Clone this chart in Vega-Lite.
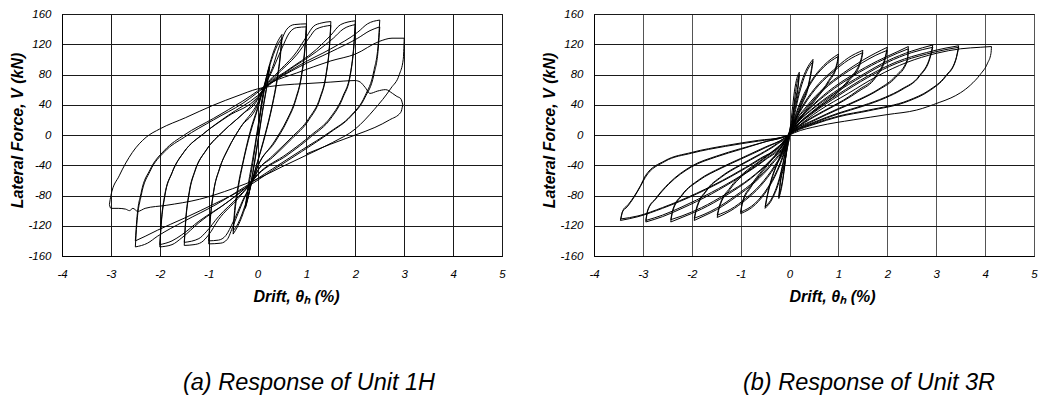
{
"$schema": "https://vega.github.io/schema/vega-lite/v6.json",
"padding": {"left": 9, "top": 7, "right": 0, "bottom": 0},
"background": "white",
"spacing": 35,
"config": {
  "view": {"stroke": "#000", "strokeWidth": 1},
  "axis": {"grid": true, "gridColor": "#1a1a1a", "gridWidth": 1, "gridOpacity": 1, "domain": true, "domainColor": "#000", "domainWidth": 1, "ticks": false,
    "labelFont": "Liberation Sans", "labelFontStyle": "italic", "labelFontSize": 11.5, "labelColor": "#000", "labelFlush": false, "labelOverlap": false,
    "labelExpr": "'' + datum.value",
    "titleFont": "Liberation Sans", "titleFontStyle": "italic", "titleFontWeight": "bold", "titleFontSize": 16, "titleColor": "#000"}
},
"datasets": {
"h1": [
{"b":1,"d":0,"v":0},{"b":1,"d":0.05,"v":25},{"b":1,"d":0.1,"v":48},{"b":1,"d":0.2,"v":80},{"b":1,"d":0.25,"v":92},
{"b":2,"d":0.25,"v":92},{"b":2,"d":0.2,"v":70},{"b":2,"d":0.1,"v":32},{"b":2,"d":0,"v":-10},{"b":2,"d":-0.1,"v":-50},{"b":2,"d":-0.2,"v":-85},{"b":2,"d":-0.25,"v":-97},
{"b":3,"d":-0.25,"v":-97},{"b":3,"d":-0.2,"v":-75},{"b":3,"d":-0.1,"v":-38},{"b":3,"d":0,"v":5},{"b":3,"d":0.1,"v":45},{"b":3,"d":0.2,"v":78},{"b":3,"d":0.25,"v":90},
{"b":4,"d":0.25,"v":90},{"b":4,"d":0.2,"v":68},{"b":4,"d":0.1,"v":30},{"b":4,"d":0,"v":-12},{"b":4,"d":-0.1,"v":-52},{"b":4,"d":-0.2,"v":-84},{"b":4,"d":-0.25,"v":-95},
{"b":5,"d":-0.25,"v":-95},{"b":5,"d":-0.2,"v":-70},{"b":5,"d":-0.1,"v":-32},{"b":5,"d":0,"v":8},{"b":5,"d":0.1,"v":50},{"b":5,"d":0.2,"v":82},{"b":5,"d":0.3,"v":105},{"b":5,"d":0.4,"v":122},{"b":5,"d":0.5,"v":133},
{"b":6,"d":0.5,"v":133},{"b":6,"d":0.47,"v":110},{"b":6,"d":0.4,"v":75},{"b":6,"d":0.3,"v":40},{"b":6,"d":0.15,"v":0},{"b":6,"d":0,"v":-35},{"b":6,"d":-0.1,"v":-58},{"b":6,"d":-0.25,"v":-95},{"b":6,"d":-0.4,"v":-120},{"b":6,"d":-0.5,"v":-131},
{"b":7,"d":-0.5,"v":-131},{"b":7,"d":-0.47,"v":-106},{"b":7,"d":-0.4,"v":-72},{"b":7,"d":-0.3,"v":-38},{"b":7,"d":-0.15,"v":2},{"b":7,"d":0,"v":34},{"b":7,"d":0.1,"v":57},{"b":7,"d":0.25,"v":92},{"b":7,"d":0.4,"v":118},{"b":7,"d":0.5,"v":128},
{"b":8,"d":0.5,"v":128},{"b":8,"d":0.47,"v":106},{"b":8,"d":0.4,"v":72},{"b":8,"d":0.3,"v":38},{"b":8,"d":0.15,"v":-2},{"b":8,"d":0,"v":-36},{"b":8,"d":-0.1,"v":-58},{"b":8,"d":-0.25,"v":-92},{"b":8,"d":-0.4,"v":-117},{"b":8,"d":-0.5,"v":-127},
{"b":9,"d":-0.5,"v":-127},{"b":9,"d":-0.47,"v":-100},{"b":9,"d":-0.4,"v":-68},{"b":9,"d":-0.3,"v":-36},{"b":9,"d":-0.15,"v":5},{"b":9,"d":0,"v":36},{"b":9,"d":0.12,"v":62},{"b":9,"d":0.3,"v":88},{"b":9,"d":0.45,"v":118},{"b":9,"d":0.6,"v":140},{"b":9,"d":0.75,"v":146},{"b":9,"d":1,"v":147},
{"b":10,"d":1,"v":147},{"b":10,"d":0.97,"v":118},{"b":10,"d":0.9,"v":80},{"b":10,"d":0.78,"v":48},{"b":10,"d":0.6,"v":20},{"b":10,"d":0.35,"v":-8},{"b":10,"d":0,"v":-42},{"b":10,"d":-0.12,"v":-62},{"b":10,"d":-0.3,"v":-88},{"b":10,"d":-0.5,"v":-120},{"b":10,"d":-0.62,"v":-138},{"b":10,"d":-0.75,"v":-143},{"b":10,"d":-1,"v":-144},
{"b":11,"d":-1,"v":-144},{"b":11,"d":-0.97,"v":-115},{"b":11,"d":-0.9,"v":-76},{"b":11,"d":-0.78,"v":-45},{"b":11,"d":-0.6,"v":-18},{"b":11,"d":-0.35,"v":10},{"b":11,"d":0,"v":40},{"b":11,"d":0.08,"v":55},{"b":11,"d":0.3,"v":85},{"b":11,"d":0.5,"v":115},{"b":11,"d":0.65,"v":135},{"b":11,"d":0.8,"v":142},{"b":11,"d":1,"v":143},
{"b":12,"d":1,"v":143},{"b":12,"d":0.97,"v":114},{"b":12,"d":0.9,"v":78},{"b":12,"d":0.78,"v":46},{"b":12,"d":0.6,"v":18},{"b":12,"d":0.35,"v":-10},{"b":12,"d":0,"v":-42},{"b":12,"d":-0.08,"v":-57},{"b":12,"d":-0.3,"v":-86},{"b":12,"d":-0.5,"v":-115},{"b":12,"d":-0.65,"v":-133},{"b":12,"d":-0.8,"v":-139},{"b":12,"d":-1,"v":-140},
{"b":13,"d":-1,"v":-140},{"b":13,"d":-0.97,"v":-112},{"b":13,"d":-0.9,"v":-75},{"b":13,"d":-0.78,"v":-45},{"b":13,"d":-0.6,"v":-18},{"b":13,"d":-0.35,"v":10},{"b":13,"d":0,"v":42},{"b":13,"d":0.15,"v":64},{"b":13,"d":0.4,"v":82},{"b":13,"d":0.8,"v":110},{"b":13,"d":1,"v":130},{"b":13,"d":1.15,"v":144},{"b":13,"d":1.3,"v":148},{"b":13,"d":1.5,"v":150},
{"b":14,"d":1.5,"v":150},{"b":14,"d":1.47,"v":118},{"b":14,"d":1.4,"v":80},{"b":14,"d":1.28,"v":50},{"b":14,"d":1.05,"v":22},{"b":14,"d":0.7,"v":-3},{"b":14,"d":0.3,"v":-28},{"b":14,"d":0,"v":-47},{"b":14,"d":-0.15,"v":-64},{"b":14,"d":-0.4,"v":-84},{"b":14,"d":-0.8,"v":-112},{"b":14,"d":-1,"v":-132},{"b":14,"d":-1.15,"v":-142},{"b":14,"d":-1.3,"v":-145},{"b":14,"d":-1.5,"v":-146},
{"b":15,"d":-1.5,"v":-146},{"b":15,"d":-1.47,"v":-115},{"b":15,"d":-1.4,"v":-78},{"b":15,"d":-1.28,"v":-48},{"b":15,"d":-1.05,"v":-20},{"b":15,"d":-0.7,"v":5},{"b":15,"d":-0.3,"v":28},{"b":15,"d":0,"v":47},{"b":15,"d":0.05,"v":54},{"b":15,"d":0.4,"v":80},{"b":15,"d":0.8,"v":106},{"b":15,"d":1.05,"v":128},{"b":15,"d":1.2,"v":140},{"b":15,"d":1.5,"v":145},
{"b":16,"d":1.5,"v":145},{"b":16,"d":1.47,"v":115},{"b":16,"d":1.4,"v":78},{"b":16,"d":1.28,"v":48},{"b":16,"d":1.05,"v":20},{"b":16,"d":0.7,"v":-5},{"b":16,"d":0.3,"v":-30},{"b":16,"d":0,"v":-48},{"b":16,"d":-0.05,"v":-55},{"b":16,"d":-0.4,"v":-82},{"b":16,"d":-0.8,"v":-108},{"b":16,"d":-1.05,"v":-128},{"b":16,"d":-1.2,"v":-137},{"b":16,"d":-1.5,"v":-142},
{"b":17,"d":-1.5,"v":-142},{"b":17,"d":-1.47,"v":-112},{"b":17,"d":-1.4,"v":-76},{"b":17,"d":-1.28,"v":-47},{"b":17,"d":-1.05,"v":-20},{"b":17,"d":-0.7,"v":5},{"b":17,"d":-0.3,"v":28},{"b":17,"d":0,"v":48},{"b":17,"d":0.2,"v":66},{"b":17,"d":0.6,"v":85},{"b":17,"d":1.2,"v":113},{"b":17,"d":1.5,"v":132},{"b":17,"d":1.7,"v":146},{"b":17,"d":2,"v":151},
{"b":18,"d":2,"v":151},{"b":18,"d":1.97,"v":120},{"b":18,"d":1.9,"v":82},{"b":18,"d":1.75,"v":52},{"b":18,"d":1.5,"v":24},{"b":18,"d":1.1,"v":0},{"b":18,"d":0.6,"v":-25},{"b":18,"d":0,"v":-52},{"b":18,"d":-0.2,"v":-67},{"b":18,"d":-0.6,"v":-88},{"b":18,"d":-1.2,"v":-116},{"b":18,"d":-1.55,"v":-136},{"b":18,"d":-1.75,"v":-145},{"b":18,"d":-2,"v":-148},
{"b":19,"d":-2,"v":-148},{"b":19,"d":-1.97,"v":-118},{"b":19,"d":-1.9,"v":-82},{"b":19,"d":-1.75,"v":-50},{"b":19,"d":-1.5,"v":-22},{"b":19,"d":-1.1,"v":2},{"b":19,"d":-0.6,"v":25},{"b":19,"d":0,"v":50},{"b":19,"d":0.12,"v":60},{"b":19,"d":0.6,"v":84},{"b":19,"d":1.2,"v":110},{"b":19,"d":1.55,"v":128},{"b":19,"d":1.75,"v":140},{"b":19,"d":2,"v":146},
{"b":20,"d":2,"v":146},{"b":20,"d":1.97,"v":117},{"b":20,"d":1.9,"v":80},{"b":20,"d":1.75,"v":50},{"b":20,"d":1.5,"v":22},{"b":20,"d":1.1,"v":-2},{"b":20,"d":0.6,"v":-27},{"b":20,"d":0,"v":-53},{"b":20,"d":-0.12,"v":-62},{"b":20,"d":-0.6,"v":-88},{"b":20,"d":-1.2,"v":-114},{"b":20,"d":-1.55,"v":-132},{"b":20,"d":-1.75,"v":-140},{"b":20,"d":-2,"v":-145},
{"b":21,"d":-2,"v":-145},{"b":21,"d":-1.97,"v":-115},{"b":21,"d":-1.9,"v":-80},{"b":21,"d":-1.75,"v":-50},{"b":21,"d":-1.5,"v":-22},{"b":21,"d":-1.1,"v":2},{"b":21,"d":-0.6,"v":26},{"b":21,"d":0,"v":52},{"b":21,"d":0.2,"v":64},{"b":21,"d":0.85,"v":92},{"b":21,"d":1.5,"v":114},{"b":21,"d":2.05,"v":136},{"b":21,"d":2.25,"v":147},{"b":21,"d":2.5,"v":152},
{"b":22,"d":2.5,"v":152},{"b":22,"d":2.47,"v":122},{"b":22,"d":2.38,"v":85},{"b":22,"d":2.2,"v":52},{"b":22,"d":1.9,"v":25},{"b":22,"d":1.5,"v":5},{"b":22,"d":0.9,"v":-20},{"b":22,"d":0.3,"v":-45},{"b":22,"d":-0.2,"v":-66},{"b":22,"d":-0.85,"v":-92},{"b":22,"d":-1.5,"v":-114},{"b":22,"d":-2.05,"v":-134},{"b":22,"d":-2.25,"v":-143},{"b":22,"d":-2.5,"v":-148},
{"b":23,"d":-2.5,"v":-148},{"b":23,"d":-2.47,"v":-118},{"b":23,"d":-2.38,"v":-80},{"b":23,"d":-2.2,"v":-48},{"b":23,"d":-1.9,"v":-22},{"b":23,"d":-1.5,"v":-3},{"b":23,"d":-0.9,"v":20},{"b":23,"d":-0.3,"v":42},{"b":23,"d":0.25,"v":68},{"b":23,"d":0.85,"v":90},{"b":23,"d":1.5,"v":110},{"b":23,"d":2.05,"v":128},{"b":23,"d":2.3,"v":138},{"b":23,"d":2.5,"v":143},
{"b":24,"d":2.5,"v":143},{"b":24,"d":2.47,"v":115},{"b":24,"d":2.38,"v":80},{"b":24,"d":2.2,"v":50},{"b":24,"d":1.9,"v":24},{"b":24,"d":1.5,"v":4},{"b":24,"d":0.9,"v":-22},{"b":24,"d":0.3,"v":-47},{"b":24,"d":-0.25,"v":-70},{"b":24,"d":-0.85,"v":-90},{"b":24,"d":-1.5,"v":-110},{"b":24,"d":-2.05,"v":-126},{"b":24,"d":-2.3,"v":-134},{"b":24,"d":-2.5,"v":-140},
{"b":25,"d":-2.5,"v":-140},{"b":25,"d":-2.47,"v":-112},{"b":25,"d":-2.38,"v":-76},{"b":25,"d":-2.2,"v":-46},{"b":25,"d":-1.9,"v":-20},{"b":25,"d":-1.5,"v":0},{"b":25,"d":-0.9,"v":22},{"b":25,"d":-0.3,"v":45},{"b":25,"d":0.3,"v":70},{"b":25,"d":0.8,"v":82},{"b":25,"d":1.5,"v":98},{"b":25,"d":2,"v":107},{"b":25,"d":2.5,"v":124},{"b":25,"d":2.75,"v":128},{"b":25,"d":3,"v":128},
{"b":26,"d":3,"v":128},{"b":26,"d":2.98,"v":100},{"b":26,"d":2.9,"v":80},{"b":26,"d":2.73,"v":62},{"b":26,"d":2.39,"v":34},{"b":26,"d":2,"v":8},{"b":26,"d":1.53,"v":-10},{"b":26,"d":0.99,"v":-27},{"b":26,"d":0.5,"v":-42},{"b":26,"d":0,"v":-58},{"b":26,"d":-0.51,"v":-71},{"b":26,"d":-1.19,"v":-85},{"b":26,"d":-1.87,"v":-93},{"b":26,"d":-2.3,"v":-97},{"b":26,"d":-2.45,"v":-101},{"b":26,"d":-2.55,"v":-97},{"b":26,"d":-2.62,"v":-100},{"b":26,"d":-2.7,"v":-98},{"b":26,"d":-2.85,"v":-97},{"b":26,"d":-3,"v":-97},{"b":26,"d":-3.03,"v":-92},
{"b":27,"d":-3.03,"v":-92},{"b":27,"d":-3,"v":-80},{"b":27,"d":-2.83,"v":-54},{"b":27,"d":-2.56,"v":-23},{"b":27,"d":-2.28,"v":-3},{"b":27,"d":-2,"v":8},{"b":27,"d":-1.47,"v":23},{"b":27,"d":-0.92,"v":39},{"b":27,"d":-0.4,"v":52},{"b":27,"d":0,"v":61},{"b":27,"d":0.5,"v":66},{"b":27,"d":1,"v":68},{"b":27,"d":1.5,"v":70},{"b":27,"d":2,"v":72},{"b":27,"d":2.1,"v":70},{"b":27,"d":2.2,"v":63},{"b":27,"d":2.3,"v":55},{"b":27,"d":2.45,"v":58},{"b":27,"d":2.62,"v":60},{"b":27,"d":2.76,"v":55},{"b":27,"d":2.85,"v":51},{"b":27,"d":2.93,"v":48},{"b":27,"d":2.97,"v":40},
{"b":28,"d":2.97,"v":40},{"b":28,"d":2.93,"v":30},{"b":28,"d":2.7,"v":20},{"b":28,"d":2.4,"v":10},{"b":28,"d":2,"v":0},{"b":28,"d":1.5,"v":-12},{"b":28,"d":1,"v":-25}
],
"r3": [
{"b":1,"d":0,"v":0},{"b":1,"d":0.05,"v":30},{"b":1,"d":0.1,"v":58},{"b":1,"d":0.15,"v":75},{"b":1,"d":0.2,"v":83},
{"b":2,"d":0.2,"v":83},{"b":2,"d":0.18,"v":70},{"b":2,"d":0.1,"v":40},{"b":2,"d":0.05,"v":20},{"b":2,"d":0,"v":6},{"b":2,"d":-0.05,"v":-15},{"b":2,"d":-0.1,"v":-42},{"b":2,"d":-0.15,"v":-65},{"b":2,"d":-0.22,"v":-84},
{"b":3,"d":-0.22,"v":-84},{"b":3,"d":-0.2,"v":-70},{"b":3,"d":-0.1,"v":-38},{"b":3,"d":-0.05,"v":-18},{"b":3,"d":0,"v":-3},{"b":3,"d":0.05,"v":15},{"b":3,"d":0.1,"v":45},{"b":3,"d":0.15,"v":68},{"b":3,"d":0.2,"v":80},
{"b":4,"d":0.2,"v":80},{"b":4,"d":0.18,"v":66},{"b":4,"d":0.1,"v":36},{"b":4,"d":0.05,"v":16},{"b":4,"d":0,"v":4},{"b":4,"d":-0.05,"v":-14},{"b":4,"d":-0.1,"v":-40},{"b":4,"d":-0.15,"v":-62},{"b":4,"d":-0.22,"v":-82},
{"b":5,"d":-0.22,"v":-82},{"b":5,"d":-0.2,"v":-68},{"b":5,"d":-0.1,"v":-36},{"b":5,"d":0,"v":-3},{"b":5,"d":0.05,"v":12},{"b":5,"d":0.1,"v":30},{"b":5,"d":0.2,"v":60},{"b":5,"d":0.3,"v":80},{"b":5,"d":0.4,"v":93},{"b":5,"d":0.48,"v":100},
{"b":6,"d":0.48,"v":100},{"b":6,"d":0.45,"v":88},{"b":6,"d":0.38,"v":65},{"b":6,"d":0.25,"v":42},{"b":6,"d":0.1,"v":18},{"b":6,"d":0,"v":4},{"b":6,"d":-0.05,"v":-8},{"b":6,"d":-0.1,"v":-28},{"b":6,"d":-0.2,"v":-58},{"b":6,"d":-0.35,"v":-84},{"b":6,"d":-0.5,"v":-97},
{"b":7,"d":-0.5,"v":-97},{"b":7,"d":-0.47,"v":-86},{"b":7,"d":-0.38,"v":-62},{"b":7,"d":-0.25,"v":-38},{"b":7,"d":-0.1,"v":-15},{"b":7,"d":0,"v":0},{"b":7,"d":0.05,"v":10},{"b":7,"d":0.1,"v":26},{"b":7,"d":0.2,"v":55},{"b":7,"d":0.3,"v":76},{"b":7,"d":0.4,"v":90},{"b":7,"d":0.48,"v":97},
{"b":8,"d":0.48,"v":97},{"b":8,"d":0.45,"v":85},{"b":8,"d":0.38,"v":62},{"b":8,"d":0.25,"v":40},{"b":8,"d":0.1,"v":16},{"b":8,"d":0,"v":3},{"b":8,"d":-0.05,"v":-8},{"b":8,"d":-0.1,"v":-26},{"b":8,"d":-0.2,"v":-55},{"b":8,"d":-0.35,"v":-82},{"b":8,"d":-0.5,"v":-95},
{"b":9,"d":-0.5,"v":-95},{"b":9,"d":-0.47,"v":-84},{"b":9,"d":-0.38,"v":-60},{"b":9,"d":-0.25,"v":-37},{"b":9,"d":-0.1,"v":-14},{"b":9,"d":0,"v":0},{"b":9,"d":0.1,"v":22},{"b":9,"d":0.25,"v":48},{"b":9,"d":0.45,"v":72},{"b":9,"d":0.7,"v":92},{"b":9,"d":1,"v":107},
{"b":10,"d":1,"v":107},{"b":10,"d":0.97,"v":95},{"b":10,"d":0.8,"v":72},{"b":10,"d":0.55,"v":50},{"b":10,"d":0.3,"v":30},{"b":10,"d":0.1,"v":12},{"b":10,"d":0,"v":4},{"b":10,"d":-0.1,"v":-22},{"b":10,"d":-0.25,"v":-48},{"b":10,"d":-0.45,"v":-72},{"b":10,"d":-0.7,"v":-92},{"b":10,"d":-1,"v":-104},
{"b":11,"d":-1,"v":-104},{"b":11,"d":-0.97,"v":-92},{"b":11,"d":-0.8,"v":-70},{"b":11,"d":-0.55,"v":-48},{"b":11,"d":-0.3,"v":-28},{"b":11,"d":-0.1,"v":-10},{"b":11,"d":0,"v":1},{"b":11,"d":0.1,"v":20},{"b":11,"d":0.25,"v":45},{"b":11,"d":0.45,"v":70},{"b":11,"d":0.7,"v":90},{"b":11,"d":1,"v":104},
{"b":12,"d":1,"v":104},{"b":12,"d":0.97,"v":92},{"b":12,"d":0.8,"v":70},{"b":12,"d":0.55,"v":48},{"b":12,"d":0.3,"v":28},{"b":12,"d":0.1,"v":11},{"b":12,"d":0,"v":3},{"b":12,"d":-0.1,"v":-20},{"b":12,"d":-0.25,"v":-46},{"b":12,"d":-0.45,"v":-70},{"b":12,"d":-0.7,"v":-90},{"b":12,"d":-1,"v":-102},
{"b":13,"d":-1,"v":-102},{"b":13,"d":-0.97,"v":-90},{"b":13,"d":-0.8,"v":-68},{"b":13,"d":-0.55,"v":-46},{"b":13,"d":-0.3,"v":-27},{"b":13,"d":-0.1,"v":-9},{"b":13,"d":0,"v":2},{"b":13,"d":0.1,"v":18},{"b":13,"d":0.3,"v":42},{"b":13,"d":0.6,"v":68},{"b":13,"d":0.9,"v":86},{"b":13,"d":1.2,"v":102},{"b":13,"d":1.5,"v":112},
{"b":14,"d":1.5,"v":112},{"b":14,"d":1.46,"v":100},{"b":14,"d":1.22,"v":74},{"b":14,"d":0.95,"v":56},{"b":14,"d":0.6,"v":38},{"b":14,"d":0.3,"v":22},{"b":14,"d":0.1,"v":10},{"b":14,"d":0,"v":4},{"b":14,"d":-0.1,"v":-18},{"b":14,"d":-0.3,"v":-42},{"b":14,"d":-0.6,"v":-68},{"b":14,"d":-0.9,"v":-86},{"b":14,"d":-1.2,"v":-100},{"b":14,"d":-1.48,"v":-109},
{"b":15,"d":-1.48,"v":-109},{"b":15,"d":-1.44,"v":-97},{"b":15,"d":-1.22,"v":-72},{"b":15,"d":-0.95,"v":-53},{"b":15,"d":-0.6,"v":-35},{"b":15,"d":-0.3,"v":-20},{"b":15,"d":-0.1,"v":-7},{"b":15,"d":0,"v":2},{"b":15,"d":0.1,"v":17},{"b":15,"d":0.3,"v":40},{"b":15,"d":0.6,"v":66},{"b":15,"d":0.9,"v":84},{"b":15,"d":1.2,"v":99},{"b":15,"d":1.5,"v":109},
{"b":16,"d":1.5,"v":109},{"b":16,"d":1.46,"v":97},{"b":16,"d":1.22,"v":72},{"b":16,"d":0.95,"v":54},{"b":16,"d":0.6,"v":36},{"b":16,"d":0.3,"v":21},{"b":16,"d":0.1,"v":9},{"b":16,"d":0,"v":3},{"b":16,"d":-0.1,"v":-17},{"b":16,"d":-0.3,"v":-40},{"b":16,"d":-0.6,"v":-66},{"b":16,"d":-0.9,"v":-84},{"b":16,"d":-1.2,"v":-98},{"b":16,"d":-1.48,"v":-106},
{"b":17,"d":-1.48,"v":-106},{"b":17,"d":-1.44,"v":-95},{"b":17,"d":-1.22,"v":-70},{"b":17,"d":-0.95,"v":-51},{"b":17,"d":-0.6,"v":-34},{"b":17,"d":-0.3,"v":-19},{"b":17,"d":-0.1,"v":-7},{"b":17,"d":0,"v":2},{"b":17,"d":0.1,"v":16},{"b":17,"d":0.35,"v":38},{"b":17,"d":0.7,"v":62},{"b":17,"d":1.1,"v":82},{"b":17,"d":1.5,"v":99},{"b":17,"d":1.75,"v":108},{"b":17,"d":2,"v":116},
{"b":18,"d":2,"v":116},{"b":18,"d":1.96,"v":104},{"b":18,"d":1.76,"v":78},{"b":18,"d":1.42,"v":60},{"b":18,"d":1.1,"v":46},{"b":18,"d":0.7,"v":32},{"b":18,"d":0.3,"v":17},{"b":18,"d":0.1,"v":8},{"b":18,"d":0,"v":3},{"b":18,"d":-0.1,"v":-15},{"b":18,"d":-0.35,"v":-38},{"b":18,"d":-0.7,"v":-62},{"b":18,"d":-1.1,"v":-82},{"b":18,"d":-1.5,"v":-99},{"b":18,"d":-1.75,"v":-107},{"b":18,"d":-1.95,"v":-113},
{"b":19,"d":-1.95,"v":-113},{"b":19,"d":-1.91,"v":-100},{"b":19,"d":-1.7,"v":-74},{"b":19,"d":-1.4,"v":-56},{"b":19,"d":-1,"v":-40},{"b":19,"d":-0.6,"v":-26},{"b":19,"d":-0.25,"v":-12},{"b":19,"d":0,"v":1},{"b":19,"d":0.1,"v":15},{"b":19,"d":0.35,"v":36},{"b":19,"d":0.7,"v":60},{"b":19,"d":1.1,"v":80},{"b":19,"d":1.5,"v":96},{"b":19,"d":1.75,"v":105},{"b":19,"d":2,"v":112},
{"b":20,"d":2,"v":112},{"b":20,"d":1.96,"v":101},{"b":20,"d":1.76,"v":76},{"b":20,"d":1.42,"v":58},{"b":20,"d":1.1,"v":45},{"b":20,"d":0.7,"v":31},{"b":20,"d":0.3,"v":16},{"b":20,"d":0.1,"v":7},{"b":20,"d":0,"v":2},{"b":20,"d":-0.1,"v":-14},{"b":20,"d":-0.35,"v":-36},{"b":20,"d":-0.7,"v":-60},{"b":20,"d":-1.1,"v":-80},{"b":20,"d":-1.5,"v":-97},{"b":20,"d":-1.75,"v":-105},{"b":20,"d":-1.95,"v":-110},
{"b":21,"d":-1.95,"v":-110},{"b":21,"d":-1.91,"v":-98},{"b":21,"d":-1.7,"v":-73},{"b":21,"d":-1.4,"v":-55},{"b":21,"d":-1,"v":-39},{"b":21,"d":-0.6,"v":-25},{"b":21,"d":-0.25,"v":-11},{"b":21,"d":0,"v":2},{"b":21,"d":0.1,"v":14},{"b":21,"d":0.4,"v":35},{"b":21,"d":0.8,"v":58},{"b":21,"d":1.3,"v":80},{"b":21,"d":1.8,"v":98},{"b":21,"d":2.2,"v":110},{"b":21,"d":2.43,"v":117},
{"b":22,"d":2.43,"v":117},{"b":22,"d":2.41,"v":100},{"b":22,"d":2.17,"v":78},{"b":22,"d":1.83,"v":61},{"b":22,"d":1.42,"v":47},{"b":22,"d":1,"v":35},{"b":22,"d":0.5,"v":20},{"b":22,"d":0.1,"v":7},{"b":22,"d":0,"v":2},{"b":22,"d":-0.1,"v":-13},{"b":22,"d":-0.4,"v":-35},{"b":22,"d":-0.8,"v":-58},{"b":22,"d":-1.3,"v":-80},{"b":22,"d":-1.8,"v":-98},{"b":22,"d":-2.2,"v":-109},{"b":22,"d":-2.43,"v":-115},
{"b":23,"d":-2.43,"v":-115},{"b":23,"d":-2.39,"v":-101},{"b":23,"d":-2.2,"v":-80},{"b":23,"d":-1.85,"v":-60},{"b":23,"d":-1.4,"v":-44},{"b":23,"d":-1,"v":-32},{"b":23,"d":-0.5,"v":-17},{"b":23,"d":-0.1,"v":-4},{"b":23,"d":0,"v":1},{"b":23,"d":0.1,"v":13},{"b":23,"d":0.4,"v":34},{"b":23,"d":0.8,"v":56},{"b":23,"d":1.3,"v":78},{"b":23,"d":1.8,"v":96},{"b":23,"d":2.2,"v":108},{"b":23,"d":2.43,"v":114},
{"b":24,"d":2.43,"v":114},{"b":24,"d":2.41,"v":98},{"b":24,"d":2.17,"v":76},{"b":24,"d":1.83,"v":60},{"b":24,"d":1.42,"v":46},{"b":24,"d":1,"v":34},{"b":24,"d":0.5,"v":19},{"b":24,"d":0.1,"v":6},{"b":24,"d":0,"v":2},{"b":24,"d":-0.1,"v":-12},{"b":24,"d":-0.4,"v":-34},{"b":24,"d":-0.8,"v":-57},{"b":24,"d":-1.3,"v":-78},{"b":24,"d":-1.8,"v":-96},{"b":24,"d":-2.2,"v":-107},{"b":24,"d":-2.43,"v":-112},
{"b":25,"d":-2.43,"v":-112},{"b":25,"d":-2.39,"v":-99},{"b":25,"d":-2.2,"v":-79},{"b":25,"d":-1.85,"v":-59},{"b":25,"d":-1.4,"v":-43},{"b":25,"d":-1,"v":-31},{"b":25,"d":-0.5,"v":-16},{"b":25,"d":-0.1,"v":-4},{"b":25,"d":0,"v":1},{"b":25,"d":0.1,"v":12},{"b":25,"d":0.45,"v":34},{"b":25,"d":0.9,"v":56},{"b":25,"d":1.5,"v":80},{"b":25,"d":2,"v":98},{"b":25,"d":2.5,"v":111},{"b":25,"d":2.93,"v":119},
{"b":26,"d":2.93,"v":119},{"b":26,"d":2.88,"v":105},{"b":26,"d":2.65,"v":78},{"b":26,"d":2.3,"v":61},{"b":26,"d":1.96,"v":50},{"b":26,"d":1.5,"v":39},{"b":26,"d":1,"v":29},{"b":26,"d":0.5,"v":17},{"b":26,"d":0.1,"v":6},{"b":26,"d":0,"v":2},{"b":26,"d":-0.12,"v":-12},{"b":26,"d":-0.5,"v":-33},{"b":26,"d":-1,"v":-55},{"b":26,"d":-1.6,"v":-78},{"b":26,"d":-2.2,"v":-97},{"b":26,"d":-2.6,"v":-108},{"b":26,"d":-2.94,"v":-115},
{"b":27,"d":-2.94,"v":-115},{"b":27,"d":-2.9,"v":-100},{"b":27,"d":-2.74,"v":-85},{"b":27,"d":-2.47,"v":-65},{"b":27,"d":-2,"v":-42},{"b":27,"d":-1.5,"v":-29},{"b":27,"d":-1,"v":-19},{"b":27,"d":-0.5,"v":-9},{"b":27,"d":0,"v":1},{"b":27,"d":0.1,"v":11},{"b":27,"d":0.45,"v":33},{"b":27,"d":0.9,"v":54},{"b":27,"d":1.5,"v":78},{"b":27,"d":2,"v":96},{"b":27,"d":2.5,"v":109},{"b":27,"d":2.93,"v":116},
{"b":28,"d":2.93,"v":116},{"b":28,"d":2.88,"v":103},{"b":28,"d":2.65,"v":77},{"b":28,"d":2.3,"v":60},{"b":28,"d":1.96,"v":49},{"b":28,"d":1.5,"v":38},{"b":28,"d":1,"v":28},{"b":28,"d":0.5,"v":16},{"b":28,"d":0.1,"v":5},{"b":28,"d":0,"v":1},{"b":28,"d":-0.12,"v":-11},{"b":28,"d":-0.5,"v":-32},{"b":28,"d":-1,"v":-54},{"b":28,"d":-1.6,"v":-76},{"b":28,"d":-2.2,"v":-95},{"b":28,"d":-2.6,"v":-106},{"b":28,"d":-2.94,"v":-113},
{"b":29,"d":-2.94,"v":-113},{"b":29,"d":-2.9,"v":-99},{"b":29,"d":-2.74,"v":-84},{"b":29,"d":-2.47,"v":-64},{"b":29,"d":-2,"v":-41},{"b":29,"d":-1.5,"v":-28},{"b":29,"d":-1,"v":-18},{"b":29,"d":-0.5,"v":-9},{"b":29,"d":0,"v":1},{"b":29,"d":0.12,"v":11},{"b":29,"d":0.5,"v":32},{"b":29,"d":1,"v":54},{"b":29,"d":1.6,"v":78},{"b":29,"d":2.2,"v":97},{"b":29,"d":2.8,"v":109},{"b":29,"d":3.2,"v":115},{"b":29,"d":3.46,"v":118},
{"b":30,"d":3.46,"v":118},{"b":30,"d":3.4,"v":100},{"b":30,"d":3.19,"v":78},{"b":30,"d":2.85,"v":59},{"b":30,"d":2.44,"v":46},{"b":30,"d":1.62,"v":33},{"b":30,"d":1,"v":25},{"b":30,"d":0.5,"v":15},{"b":30,"d":0.1,"v":5},{"b":30,"d":0,"v":1},{"b":30,"d":-0.15,"v":-12},{"b":30,"d":-0.6,"v":-32},{"b":30,"d":-1.2,"v":-55},{"b":30,"d":-1.9,"v":-78},{"b":30,"d":-2.6,"v":-97},{"b":30,"d":-3.1,"v":-108},{"b":30,"d":-3.46,"v":-113},
{"b":31,"d":-3.46,"v":-113},{"b":31,"d":-3.42,"v":-102},{"b":31,"d":-3.32,"v":-95},{"b":31,"d":-3.05,"v":-68},{"b":31,"d":-2.95,"v":-56},{"b":31,"d":-2.55,"v":-35},{"b":31,"d":-2,"v":-24},{"b":31,"d":-1.31,"v":-15},{"b":31,"d":-0.63,"v":-8},{"b":31,"d":-0.16,"v":-3},{"b":31,"d":0,"v":1},{"b":31,"d":0.12,"v":10},{"b":31,"d":0.5,"v":30},{"b":31,"d":1,"v":52},{"b":31,"d":1.6,"v":76},{"b":31,"d":2.2,"v":95},{"b":31,"d":2.8,"v":107},{"b":31,"d":3.2,"v":113},{"b":31,"d":3.46,"v":116},
{"b":32,"d":3.46,"v":116},{"b":32,"d":3.4,"v":99},{"b":32,"d":3.19,"v":77},{"b":32,"d":2.85,"v":58},{"b":32,"d":2.44,"v":45},{"b":32,"d":1.62,"v":32},{"b":32,"d":1,"v":24},{"b":32,"d":0.5,"v":14},{"b":32,"d":0.1,"v":4},{"b":32,"d":0,"v":0},{"b":32,"d":-0.15,"v":-12},{"b":32,"d":-0.6,"v":-31},{"b":32,"d":-1.2,"v":-54},{"b":32,"d":-1.9,"v":-77},{"b":32,"d":-2.6,"v":-96},{"b":32,"d":-3.1,"v":-107},{"b":32,"d":-3.45,"v":-111},
{"b":33,"d":-3.45,"v":-111},{"b":33,"d":-3.41,"v":-100},{"b":33,"d":-3.3,"v":-92},{"b":33,"d":-3.05,"v":-67},{"b":33,"d":-2.95,"v":-54},{"b":33,"d":-2.55,"v":-34},{"b":33,"d":-2,"v":-23},{"b":33,"d":-1.31,"v":-14},{"b":33,"d":-0.63,"v":-7},{"b":33,"d":-0.16,"v":-3},{"b":33,"d":0,"v":1},{"b":33,"d":0.15,"v":10},{"b":33,"d":0.6,"v":32},{"b":33,"d":1.2,"v":55},{"b":33,"d":1.8,"v":78},{"b":33,"d":2.4,"v":96},{"b":33,"d":3,"v":108},{"b":33,"d":3.5,"v":114},{"b":33,"d":3.9,"v":116},{"b":33,"d":4.13,"v":117},
{"b":34,"d":4.13,"v":117},{"b":34,"d":4.12,"v":108},{"b":34,"d":4.05,"v":95},{"b":34,"d":3.9,"v":80},{"b":34,"d":3.7,"v":66},{"b":34,"d":3.5,"v":56},{"b":34,"d":3.3,"v":49},{"b":34,"d":3.06,"v":43},{"b":34,"d":2.6,"v":33},{"b":34,"d":2,"v":27},{"b":34,"d":1.3,"v":20},{"b":34,"d":0.6,"v":12},{"b":34,"d":0.1,"v":3},{"b":34,"d":0,"v":0}
]
},
"hconcat": [
{
  "width": 440, "height": 242,
  "data": {"name": "h1"},
  "title": {"text": "(a) Response of Unit 1H", "orient": "bottom", "anchor": "middle", "dx": 27, "offset": 67, "fontSize": 23.5, "font": "Liberation Sans", "fontStyle": "italic", "fontWeight": "normal", "color": "#000"},
  "mark": {"type": "line", "color": "#000", "strokeWidth": 1, "interpolate": "monotone"},
  "encoding": {
    "x": {"field": "d", "type": "quantitative", "scale": {"domain": [-4, 5], "nice": false, "zero": false},
      "axis": {"values": [-4, -3, -2, -1, 0, 1, 2, 3, 4, 5], "title": "Drift,  θₕ (%)", "labelPadding": 12, "titleX": 234, "titleY": 40, "titleBaseline": "middle", "titleAnchor": "middle"}},
    "y": {"field": "v", "type": "quantitative", "scale": {"domain": [-160, 160], "nice": false, "zero": false},
      "axis": {"values": [-160, -120, -80, -40, 0, 40, 80, 120, 160], "title": "Lateral Force, V (kN)", "labelPadding": 11, "titlePadding": 2, "titleY": 116}},
    "detail": {"field": "b", "type": "nominal"}
  }
},
{
  "width": 440, "height": 242,
  "data": {"name": "r3"},
  "title": {"text": "(b) Response of Unit 3R", "orient": "bottom", "anchor": "middle", "dx": 55, "offset": 67, "fontSize": 23.5, "font": "Liberation Sans", "fontStyle": "italic", "fontWeight": "normal", "color": "#000"},
  "mark": {"type": "line", "color": "#000", "strokeWidth": 1, "interpolate": "monotone"},
  "encoding": {
    "x": {"field": "d", "type": "quantitative", "scale": {"domain": [-4, 5], "nice": false, "zero": false},
      "axis": {"values": [-4, -3, -2, -1, 0, 1, 2, 3, 4, 5], "title": "Drift,  θₕ (%)", "labelPadding": 12, "titleX": 238, "titleY": 40, "titleBaseline": "middle", "titleAnchor": "middle", "gridColor": "#555"}},
    "y": {"field": "v", "type": "quantitative", "scale": {"domain": [-160, 160], "nice": false, "zero": false},
      "axis": {"values": [-160, -120, -80, -40, 0, 40, 80, 120, 160], "title": "Lateral Force, V (kN)", "labelPadding": 11, "titlePadding": 2, "titleY": 116}},
    "detail": {"field": "b", "type": "nominal"}
  }
}
]
}
